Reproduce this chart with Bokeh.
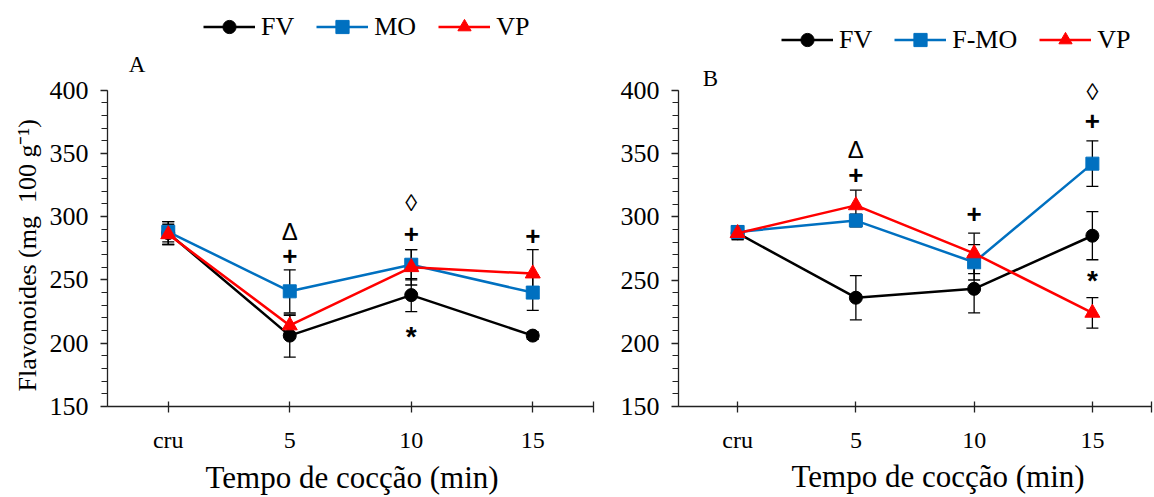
from bokeh.plotting import figure
from bokeh.models import FixedTicker, Label, Legend, LegendItem, Range1d, Title
from bokeh.layouts import row
from bokeh.embed import file_html
from bokeh.resources import INLINE
from bokeh.core.properties import value

categories = ["cru", "5", "10", "15"]
x_idx = [0, 1, 2, 3]

# Panel A
a_fv = [287, 206, 238, 206]
a_fv_err = [9, 17, 13, 3]
a_mo = [288, 241, 262, 240]
a_mo_err = [8, 17, 12, 14]
a_vp = [286, 214, 260, 255]
a_vp_err = [8, 8, 14, 19]
a_names = ["FV", "MO", "VP"]

# Panel B
b_fv = [287, 236, 243, 285]
b_fv_err = [5, 17.5, 19, 19]
b_mo = [288, 297, 264, 342]
b_mo_err = [5, 5, 14, 18]
b_vp = [287, 309, 271, 224]
b_vp_err = [5, 12, 16, 12]
b_names = ["FV", "F-MO", "VP"]

# significance marks (symbol, category index, y value)
a_mark_sym = ["Δ", "+", "◊", "+", "*", "+"]
a_mark_cat = [1, 1, 2, 2, 2, 3]
a_mark_y = [288, 269, 311, 286, 205, 285]
b_mark_sym = ["Δ", "+", "+", "◊", "+", "*"]
b_mark_cat = [1, 1, 2, 3, 3, 3]
b_mark_y = [353, 333, 302, 399, 376, 249.5]

y_ticks = [150, 200, 250, 300, 350, 400]
y_minor = list(range(150, 401, 10))
x_title = "Tempo de cocção (min)"
y_title = "Flavonoides (mg\u00a0 100 g⁻¹)"

colors = ["#000000", "#0070C0", "#FF0000"]
markers = ["circle", "square", "triangle"]
msizes = [13, 13, 15]
SERIF = "Liberation Serif"
SANS = "Liberation Sans"
H = 497
# symbol -> (font size, font style)
sym_style = {"Δ": ("24px", "normal"), "◊": ("24px", "normal"),
             "+": ("26px", "bold"), "*": ("28px", "bold")}


def make_panel(series, errs, names, marks, width, bl, br, bb, y_top_px,
               letter, letter_xy, legend_loc, xt_offset, xt_standoff, ytitle):
    frame_h = H - bb
    # frame reaches the top of the canvas; value 400 lies y_top_px below it
    ytop = 400 + y_top_px * 250.0 / (frame_h - y_top_px)
    p = figure(width=width, height=H, output_backend="svg", toolbar_location=None,
               x_range=Range1d(-0.5, 3.5), y_range=Range1d(150, ytop),
               min_border_left=bl, min_border_right=br, min_border_top=0,
               min_border_bottom=bb)
    p.outline_line_color = None
    p.xgrid.grid_line_color = None
    p.ygrid.grid_line_color = None
    p.background_fill_color = "white"
    p.border_fill_color = "white"

    # axes
    p.xaxis.bounds = (-0.5, 3.5)
    p.xaxis.ticker = FixedTicker(ticks=[0, 1, 2, 3, 3.5])
    p.xaxis.major_label_overrides = {0: "cru", 1: "5", 2: "10", 3: "15", 3.5: ""}
    p.xaxis.minor_tick_line_color = None
    p.xaxis.major_tick_in = 5
    p.xaxis.major_tick_out = 6
    p.xaxis.axis_line_width = 1.3
    p.xaxis.major_tick_line_width = 1.3
    p.xaxis.axis_line_color = "#222222"
    p.xaxis.major_tick_line_color = "#222222"
    p.xaxis.major_label_text_font = SERIF
    p.xaxis.major_label_text_font_size = "24px"
    p.xaxis.major_label_text_color = "black"
    p.xaxis.major_label_standoff = 14

    p.yaxis.bounds = (150, 400)
    p.yaxis.ticker = FixedTicker(ticks=y_ticks, minor_ticks=y_minor)
    p.yaxis.major_tick_in = 0
    p.yaxis.major_tick_out = 7
    p.yaxis.minor_tick_in = 0
    p.yaxis.minor_tick_out = 6
    p.yaxis.axis_line_width = 1.3
    p.yaxis.major_tick_line_width = 1.3
    p.yaxis.minor_tick_line_width = 1.1
    p.yaxis.axis_line_color = "#222222"
    p.yaxis.major_tick_line_color = "#222222"
    p.yaxis.minor_tick_line_color = "#222222"
    p.yaxis.major_label_text_font = SERIF
    p.yaxis.major_label_text_font_size = "26px"
    p.yaxis.major_label_text_color = "black"
    p.yaxis.major_label_standoff = 12

    # error bars
    for vals, err in zip(series, errs):
        lo = [v - e for v, e in zip(vals, err)]
        hi = [v + e for v, e in zip(vals, err)]
        p.segment(x0=x_idx, y0=lo, x1=x_idx, y1=hi, line_color="black", line_width=1.3)
        p.scatter(x=x_idx + x_idx, y=lo + hi, marker="dash", size=12,
                  line_color="black", line_width=1.3)

    items = []
    for vals, c, m, s, name in zip(series, colors, markers, msizes, names):
        lr = p.line(x=x_idx, y=vals, line_color=c, line_width=2.5)
        sr = p.scatter(x=x_idx, y=vals, marker=m, size=s, fill_color=c, line_color=c)
        items.append(LegendItem(label=name, renderers=[lr, sr]))

    legend = Legend(items=items, orientation="horizontal", location=legend_loc,
                    padding=0, margin=0, spacing=22, glyph_width=52, glyph_height=33,
                    label_standoff=6, label_height=33,
                    label_text_font=SERIF, label_text_font_size="26px",
                    label_text_color="black",
                    background_fill_alpha=0, border_line_alpha=0)
    p.add_layout(legend)

    # significance marks
    syms, cats, ys = marks
    for sym, (fs, fst) in sym_style.items():
        xs = [c for s_, c in zip(syms, cats) if s_ == sym]
        yv = [y for s_, y in zip(syms, ys) if s_ == sym]
        if not xs:
            continue
        p.text(x=xs, y=yv, text=[sym] * len(xs), text_align="center",
               text_baseline="middle", text_font=value(SANS), text_font_size=fs,
               text_font_style=fst, text_color="black")

    # panel letter
    p.add_layout(Label(x=letter_xy[0], y=letter_xy[1], text=letter, text_align="center",
                       text_baseline="middle", text_font=SERIF, text_font_size="23px",
                       text_color="black"))
    # x title
    p.add_layout(Title(text=x_title, align="left", offset=xt_offset, standoff=xt_standoff,
                       text_font=SERIF, text_font_size="31px", text_font_style="normal",
                       text_color="black"), "below")
    # y title
    if ytitle is not None:
        p.add_layout(Title(text=y_title, align="left", offset=ytitle[0], standoff=ytitle[1],
                           text_font=SERIF, text_font_size="26px", text_font_style="normal",
                           text_color="black"), "left")
    return p


pa = make_panel([a_fv, a_mo, a_vp], [a_fv_err, a_mo_err, a_vp_err], a_names,
                (a_mark_sym, a_mark_cat, a_mark_y),
                600, 107, 7, 89, 90,
                "A", (-0.256, 420.4), (96, 363), 98, 5, (15, 10))

pb = make_panel([b_fv, b_mo, b_vp], [b_fv_err, b_mo_err, b_vp_err], b_names,
                (b_mark_sym, b_mark_cat, b_mark_y),
                554, 78, 3, 90, 90,
                "B", (-0.23, 409.4), (103, 350), 113, 2, None)

layout = row(pa, pb)
open("out.html", "w").write(file_html(layout, INLINE))
